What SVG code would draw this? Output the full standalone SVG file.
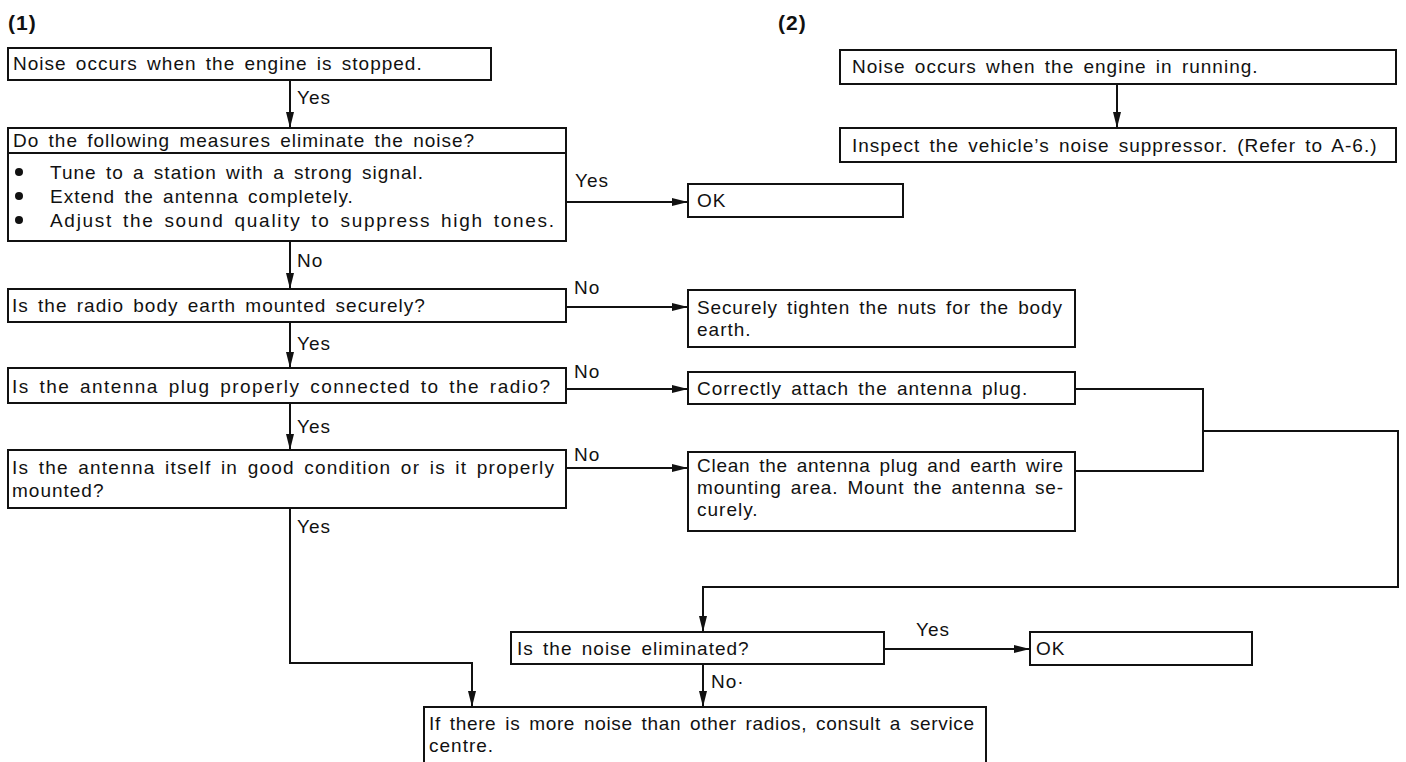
<svg xmlns="http://www.w3.org/2000/svg" width="1406" height="762" viewBox="0 0 1406 762">
  <defs>
    <marker id="arrow" markerUnits="userSpaceOnUse" markerWidth="16" markerHeight="8" refX="16" refY="4" orient="auto">
      <path d="M0,0 L16,4 L0,8 z" fill="#111"/>
    </marker>
    <style>
      .box { fill: #fff; stroke: #111; stroke-width: 2; }
      .line { fill: none; stroke: #111; stroke-width: 2; }
      .arr { fill: none; stroke: #111; stroke-width: 2; marker-end: url(#arrow); }
      text { font-family: "Liberation Sans", Arial, sans-serif; font-size: 19px; fill: #111; letter-spacing: 1px; word-spacing: 3px; }
      .head { font-size: 21px; font-weight: bold; letter-spacing: 1px; }
      .dot { fill: #111; }
    </style>
  </defs>

  <rect width="1406" height="762" fill="#fff"/>

  <!-- section headings -->
  <text class="head" x="8" y="30">(1)</text>
  <text class="head" x="778" y="30">(2)</text>

  <!-- connectors -->
  <g id="connectors">
    <path class="arr" d="M290 80 V128"/>
    <path class="arr" d="M566 202 H688"/>
    <path class="arr" d="M290 241 V289"/>
    <path class="arr" d="M566 307 H688"/>
    <path class="arr" d="M290 322 V368"/>
    <path class="arr" d="M566 389 H688"/>
    <path class="arr" d="M290 403 V450"/>
    <path class="arr" d="M566 468 H688"/>
    <path class="line" d="M1075 389 H1203 V471 H1075"/>
    <path class="arr" d="M1203 431 H1398 V587 H703 V632"/>
    <path class="arr" d="M884 649 H1030"/>
    <path class="arr" d="M703 664 V707"/>
    <path class="arr" d="M290 508 V663 H472 V707"/>
    <path class="arr" d="M1117 84 V128"/>

    <text x="297" y="104">Yes</text>
    <text x="575" y="187">Yes</text>
    <text x="297" y="267">No</text>
    <text x="574" y="294">No</text>
    <text x="297" y="350">Yes</text>
    <text x="574" y="378">No</text>
    <text x="297" y="433">Yes</text>
    <text x="574" y="461">No</text>
    <text x="297" y="533">Yes</text>
    <text x="916" y="636">Yes</text>
    <text x="711" y="688">No·</text>
  </g>

  <!-- flow (1) -->
  <g id="n1">
    <rect class="box" x="8" y="48" width="483" height="32"/>
    <text x="13" y="70">Noise occurs when the engine is stopped.</text>
  </g>

  <g id="n2">
    <rect class="box" x="8" y="128" width="558" height="113"/>
    <line class="line" x1="8" y1="153" x2="566" y2="153"/>
    <text x="13" y="147">Do the following measures eliminate the noise?</text>
    <circle class="dot" cx="19" cy="172" r="4"/>
    <circle class="dot" cx="19" cy="196" r="4"/>
    <circle class="dot" cx="19" cy="220" r="4"/>
    <text x="50" y="179">Tune to a station with a strong signal.</text>
    <text x="50" y="203">Extend the antenna completely.</text>
    <text x="50" y="227" textLength="505" lengthAdjust="spacing">Adjust the sound quality to suppress high tones.</text>
  </g>

  <g id="ok1">
    <rect class="box" x="688" y="184" width="215" height="33"/>
    <text x="697" y="207">OK</text>
  </g>

  <g id="n3">
    <rect class="box" x="8" y="289" width="558" height="33"/>
    <text x="12" y="312">Is the radio body earth mounted securely?</text>
  </g>

  <g id="s1">
    <rect class="box" x="688" y="290" width="387" height="57"/>
    <text x="697" y="314" textLength="366" lengthAdjust="spacing">Securely tighten the nuts for the body</text>
    <text x="697" y="336">earth.</text>
  </g>

  <g id="n4">
    <rect class="box" x="8" y="368" width="558" height="35"/>
    <text x="12" y="393" textLength="539" lengthAdjust="spacing">Is the antenna plug properly connected to the radio?</text>
  </g>

  <g id="s2">
    <rect class="box" x="688" y="372" width="387" height="32"/>
    <text x="697" y="395">Correctly attach the antenna plug.</text>
  </g>

  <g id="n5">
    <rect class="box" x="8" y="450" width="558" height="58"/>
    <text x="12" y="474" textLength="543" lengthAdjust="spacing">Is the antenna itself in good condition or is it properly</text>
    <text x="12" y="497">mounted?</text>
  </g>

  <g id="s3">
    <rect class="box" x="688" y="452" width="387" height="79"/>
    <text x="697" y="472" textLength="367" lengthAdjust="spacing">Clean the antenna plug and earth wire</text>
    <text x="697" y="494" textLength="367" lengthAdjust="spacing">mounting area. Mount the antenna se-</text>
    <text x="697" y="516">curely.</text>
  </g>

  <g id="n6">
    <rect class="box" x="511" y="632" width="373" height="32"/>
    <text x="517" y="655">Is the noise eliminated?</text>
  </g>

  <g id="ok2">
    <rect class="box" x="1030" y="632" width="222" height="33"/>
    <text x="1036" y="655">OK</text>
  </g>

  <g id="n7">
    <rect class="box" x="424" y="707" width="562" height="70"/>
    <text x="429" y="730" textLength="546" lengthAdjust="spacing">If there is more noise than other radios, consult a service</text>
    <text x="429" y="752">centre.</text>
  </g>

  <!-- flow (2) -->
  <g id="r1">
    <rect class="box" x="840" y="50" width="556" height="34"/>
    <text x="852" y="73">Noise occurs when the engine in running.</text>
  </g>

  <g id="r2">
    <rect class="box" x="840" y="128" width="556" height="34"/>
    <text x="852" y="152">Inspect the vehicle’s noise suppressor. (Refer to A-6.)</text>
  </g>
</svg>
